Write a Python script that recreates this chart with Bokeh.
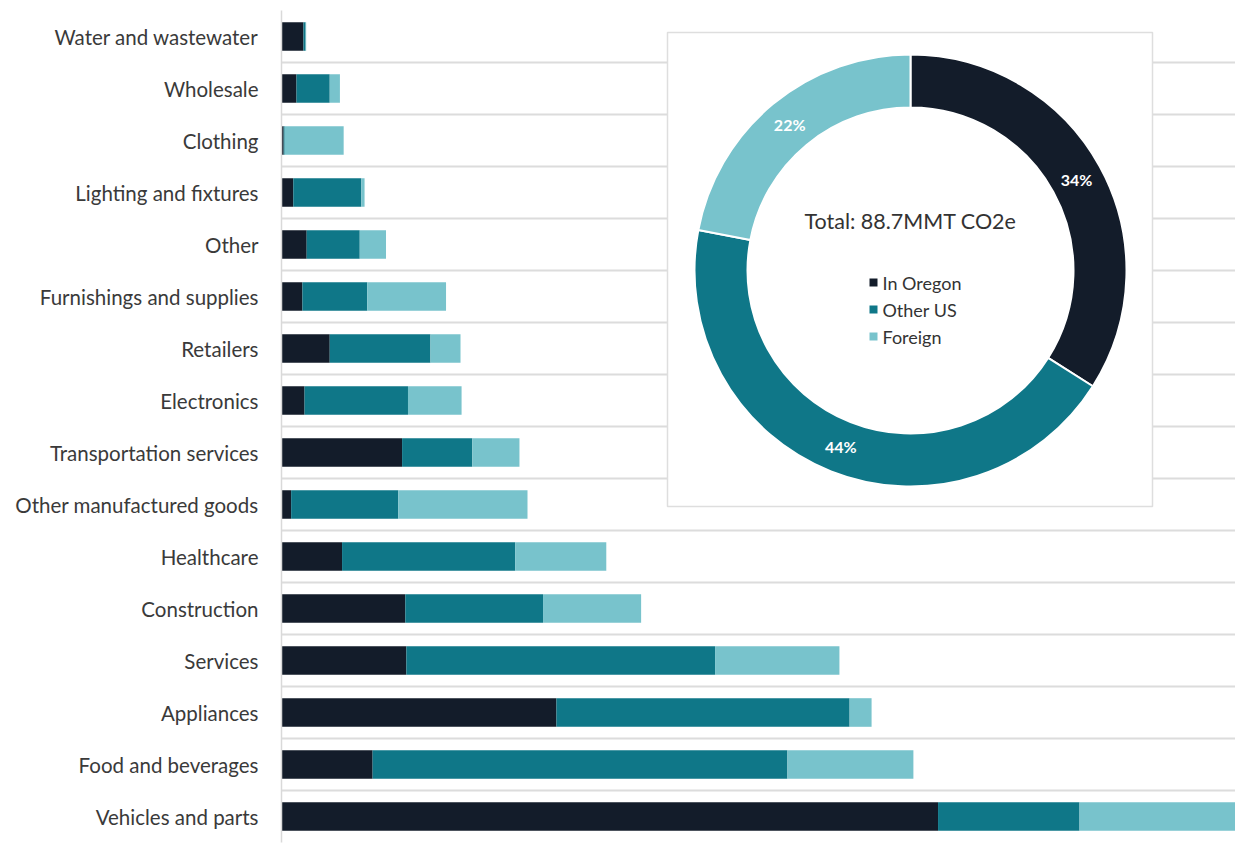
import math
from bokeh.plotting import figure
from bokeh.models import Range1d, FixedTicker, ColumnDataSource
from bokeh.embed import file_html
from bokeh.resources import INLINE
from bokeh.core.properties import value

# ---------------- data (MMT CO2e) ----------------
categories = [
    "Water and wastewater", "Wholesale", "Clothing", "Lighting and fixtures",
    "Other", "Furnishings and supplies", "Retailers", "Electronics",
    "Transportation services", "Other manufactured goods", "Healthcare",
    "Construction", "Services", "Appliances", "Food and beverages",
    "Vehicles and parts",
]
in_oregon = [0.41, 0.28, 0.04, 0.22, 0.47, 0.39, 0.90, 0.43, 2.25, 0.18, 1.13, 2.31, 2.33, 5.13, 1.70, 12.25]
other_us  = [0.04, 0.62, 0.02, 1.27, 0.99, 1.21, 1.88, 1.93, 1.31, 2.00, 3.23, 2.57, 5.76, 5.47, 7.74, 2.64]
foreign   = [0.01, 0.19, 1.10, 0.06, 0.49, 1.47, 0.56, 1.00, 0.88, 2.41, 1.70, 1.83, 2.32, 0.41, 2.35, 3.05]

series_names = ["In Oregon", "Other US", "Foreign"]
share_pct = [34, 44, 22]
total_label = "Total: 88.7MMT CO2e"

colors = ["#131C2A", "#0F7788", "#78C3CC"]
FONT = "Lato"

# ---------------- figure ----------------
FW, FH = 954, 832
p = figure(frame_width=FW, frame_height=FH, output_backend="svg", toolbar_location=None,
           x_range=Range1d(0, 17.8), y_range=Range1d(15.5, -0.5),
           min_border_left=281, min_border_right=0, min_border_top=10, min_border_bottom=4,
           x_axis_location=None)
p.outline_line_color = None
p.background_fill_color = "white"
p.border_fill_color = "white"

src = ColumnDataSource(dict(y=list(range(len(categories))),
                            in_oregon=in_oregon, other_us=other_us, foreign=foreign))
p.hbar_stack(["in_oregon", "other_us", "foreign"], y="y", height=0.55,
             color=colors, line_color=None, source=src)

# axes / grid
p.yaxis.ticker = FixedTicker(ticks=list(range(len(categories))))
p.yaxis.major_label_overrides = {i: c for i, c in enumerate(categories)}
p.yaxis.major_tick_line_color = None
p.yaxis.minor_tick_line_color = None
p.yaxis.axis_line_color = "#d9d9d9"
p.yaxis.axis_line_width = 1.5
p.yaxis.major_label_text_font = FONT
p.yaxis.major_label_text_font_size = "20.5px"
p.yaxis.major_label_text_color = "#3a3a3a"
p.yaxis.major_label_standoff = 17
p.ygrid.ticker = FixedTicker(ticks=[i - 0.5 for i in range(len(categories) + 1)])
p.ygrid.grid_line_color = "#dcdcdc"
p.ygrid.grid_line_width = 2
p.xgrid.visible = False

# ---------------- inset donut (pixel-space ranges) ----------------
p.extra_x_ranges = {"px": Range1d(0, FW)}
p.extra_y_ranges = {"py": Range1d(0, FH)}
kw = dict(x_range_name="px", y_range_name="py")

p.quad(left=386, right=871, top=810, bottom=336, fill_color="white",
       line_color="#dedede", line_width=1.5, **kw)

cx, cy = 629, 572
r_in, r_out = 163, 216
fr = [v / sum(share_pct) for v in share_pct]
cum = [sum(fr[:i]) for i in range(len(fr) + 1)]
starts = [math.pi / 2 - 2 * math.pi * cum[i] for i in range(len(fr))]
ends = [math.pi / 2 - 2 * math.pi * cum[i + 1] for i in range(len(fr))]
wsrc = ColumnDataSource(dict(start=starts, end=ends, color=colors))
p.annular_wedge(x=cx, y=cy, inner_radius=r_in, outer_radius=r_out,
                inner_radius_units="screen", outer_radius_units="screen",
                start_angle="start", end_angle="end", direction="clock",
                fill_color="color", line_color="white", line_width=2, source=wsrc, **kw)

r_mid = (r_in + r_out) / 2
mids = [(s + e) / 2 for s, e in zip(starts, ends)]
p.text(x=[cx + r_mid * math.cos(a) for a in mids],
       y=[cy + r_mid * math.sin(a) for a in mids],
       text=[f"{v}%" for v in share_pct], text_color="white",
       text_font=value(FONT), text_font_style="bold", text_font_size="16px",
       text_align="center", text_baseline="middle", **kw)

p.text(x=[cx], y=[622], text=[total_label], text_color="#333333",
       text_font=value(FONT), text_font_size="21.5px",
       text_align="center", text_baseline="middle", **kw)

leg_y = [560 - 27 * i for i in range(len(series_names))]
p.scatter(x=[592] * len(series_names), y=leg_y, marker="square", size=8,
          fill_color=colors, line_color=None, **kw)
p.text(x=[601] * len(series_names), y=leg_y, text=series_names, text_color="#333333",
       text_font=value(FONT), text_font_size="18px",
       text_align="left", text_baseline="middle", **kw)

open("out.html", "w").write(file_html(p, INLINE))
